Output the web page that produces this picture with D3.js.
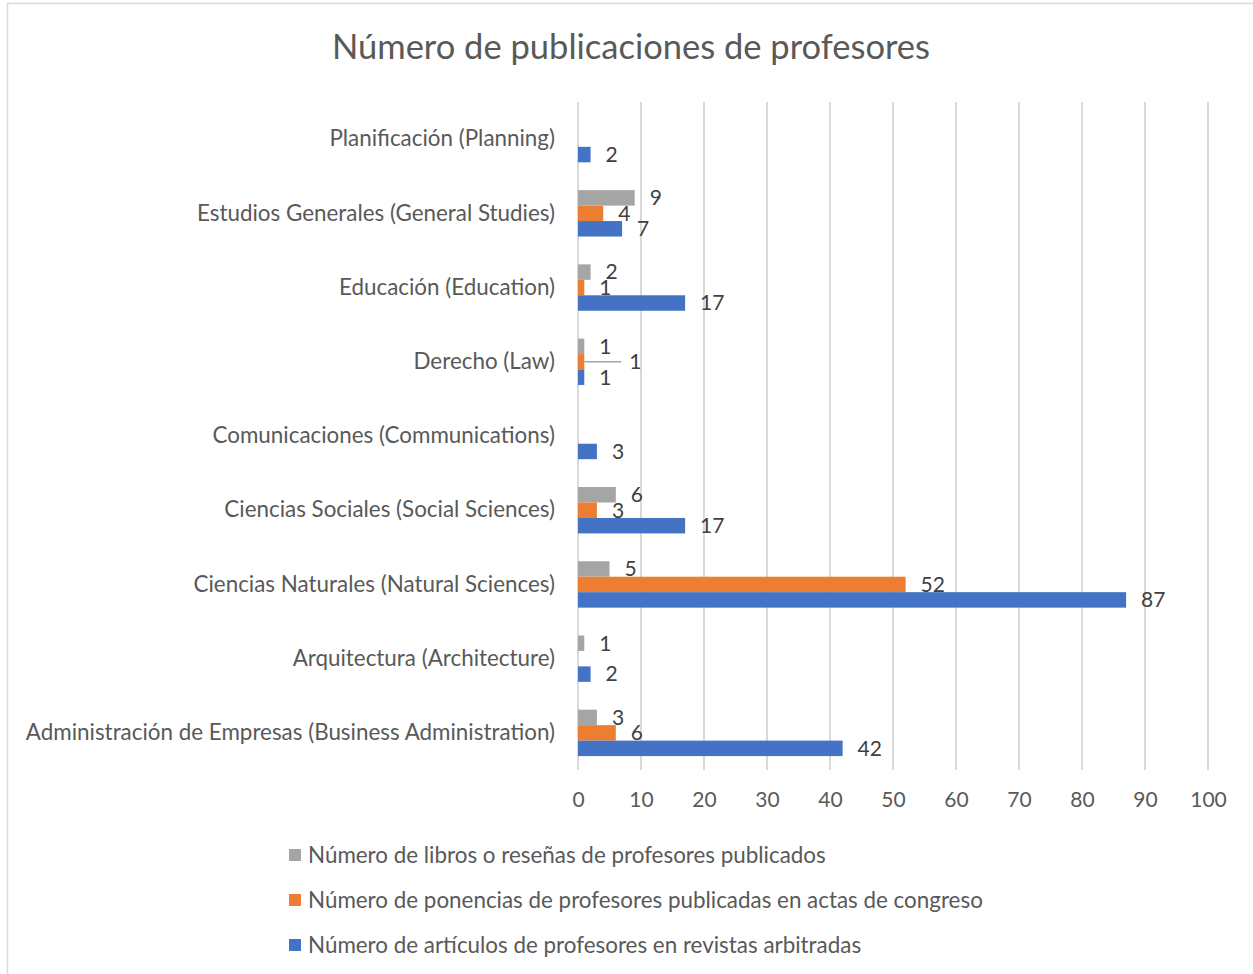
<!DOCTYPE html>
<html>
<head>
<meta charset="utf-8">
<script src="https://cdn.jsdelivr.net/npm/d3@7"></script>
<style>
  body { margin: 0; background: #fff; }
  text { font-family: Lato, "Noto Sans", sans-serif; fill: #595959; }
</style>
</head>
<body>
<div id="chart"></div>
<script>
// chart data (top category first, as drawn)
const categories = [
  "Planificación (Planning)",
  "Estudios Generales (General Studies)",
  "Educación (Education)",
  "Derecho (Law)",
  "Comunicaciones (Communications)",
  "Ciencias Sociales (Social Sciences)",
  "Ciencias Naturales (Natural Sciences)",
  "Arquitectura (Architecture)",
  "Administración de Empresas (Business Administration)"
];
const seriesNames = [
  "Número de libros o reseñas de profesores publicados",
  "Número de ponencias de profesores publicadas en actas de congreso",
  "Número de artículos de profesores en revistas arbitradas"
];
const libros    = [null, 9, 2, 1, null, 6, 5, 1, 3];
const ponencias = [null, 4, 1, 1, null, 3, 52, null, 6];
const articulos = [2, 7, 17, 1, 3, 17, 87, 2, 42];
const xTicks = [0, 10, 20, 30, 40, 50, 60, 70, 80, 90, 100];
const colors = ["#a5a5a5", "#ed7d31", "#4472c4"];

const WIDTH = 1253, HEIGHT = 974;
const PLOT = {left: 578, right: 1208, top: 102, bottom: 770};
const FONT = "Lato, 'Noto Sans', sans-serif";

const svg = d3.select("#chart").append("svg")
  .attr("width", WIDTH).attr("height", HEIGHT);

// chart border
svg.append("rect")
  .attr("x", 7.5).attr("y", 3.5)
  .attr("width", WIDTH + 20).attr("height", HEIGHT + 20)
  .attr("fill", "none").attr("stroke", "#d9d9d9").attr("stroke-width", 1.5);

// title
svg.append("text")
  .attr("x", 631).attr("y", 59)
  .attr("text-anchor", "middle")
  .attr("font-size", 34.5)
  .text("Número de publicaciones de profesores");

const x = d3.scaleLinear().domain([0, 100]).range([PLOT.left, PLOT.right]);
const y = d3.scaleBand().domain(categories).range([PLOT.top, PLOT.bottom]).padding(0);
const ySub = d3.scaleBand().domain([0, 1, 2]).range([0, y.bandwidth()])
  .paddingInner(0).paddingOuter(0.9);

// gridlines
svg.append("g")
  .selectAll("line")
  .data(xTicks)
  .enter()
  .append("line")
    .attr("x1", d => x(d)).attr("x2", d => x(d))
    .attr("y1", PLOT.top).attr("y2", PLOT.bottom)
    .attr("stroke", "#d9d9d9").attr("stroke-width", 2);

// x axis labels
const xAxis = svg.append("g")
  .attr("transform", "translate(0," + PLOT.bottom + ")")
  .call(d3.axisBottom(x).tickValues(xTicks).tickSize(0).tickPadding(22));
xAxis.select(".domain").remove();
xAxis.selectAll("text").attr("font-size", 21).style("fill", "#595959")
  .style("font-family", FONT);

// y axis labels
const yAxis = svg.append("g")
  .attr("transform", "translate(" + (PLOT.left - 23) + ",0)")
  .call(d3.axisLeft(y).tickSize(0).tickPadding(0));
yAxis.select(".domain").remove();
yAxis.selectAll("text").attr("font-size", 22.4).style("fill", "#595959")
  .style("font-family", FONT);

// flatten bars
const allSeries = [libros, ponencias, articulos];
const bars = [];
allSeries.forEach((vals, s) => {
  vals.forEach((v, i) => {
    if (v !== null) bars.push({cat: categories[i], s: s, v: v});
  });
});

svg.append("g")
  .selectAll("rect")
  .data(bars)
  .enter()
  .append("rect")
    .attr("x", x(0))
    .attr("y", d => y(d.cat) + ySub(d.s))
    .attr("width", d => x(d.v) - x(0))
    .attr("height", ySub.bandwidth())
    .attr("fill", d => colors[d.s]);

// value labels (the Law congress label is pushed out with a leader line, as in Excel)
const isMoved = d => d.cat === "Derecho (Law)" && d.s === 1;
const labelX = d => x(d.v) + 15 + (isMoved(d) ? 30 : 0);

svg.append("g")
  .selectAll("line")
  .data(bars.filter(isMoved))
  .enter()
  .append("line")
    .attr("x1", d => x(d.v))
    .attr("x2", d => labelX(d) - 8)
    .attr("y1", d => y(d.cat) + ySub(d.s) + ySub.bandwidth() / 2)
    .attr("y2", d => y(d.cat) + ySub(d.s) + ySub.bandwidth() / 2)
    .attr("stroke", "#a5a5a5").attr("stroke-width", 1.5);

svg.append("g")
  .selectAll("text")
  .data(bars)
  .enter()
  .append("text")
    .attr("x", labelX)
    .attr("y", d => y(d.cat) + ySub(d.s) + ySub.bandwidth() / 2)
    .attr("dy", "0.35em")
    .attr("font-size", 21)
    .style("fill", "#404040")
    .text(d => d.v);

// legend
const legend = svg.append("g")
  .selectAll("g")
  .data(seriesNames)
  .enter()
  .append("g")
    .attr("transform", (d, i) => "translate(289," + (855 + i * 45) + ")");
legend.append("rect")
  .attr("x", 0).attr("y", -6).attr("width", 12).attr("height", 12)
  .attr("fill", (d, i) => colors[i]);
legend.append("text")
  .attr("x", 19).attr("y", 0).attr("dy", "0.35em")
  .attr("font-size", 22.4)
  .text(d => d);
</script>
</body>
</html>
